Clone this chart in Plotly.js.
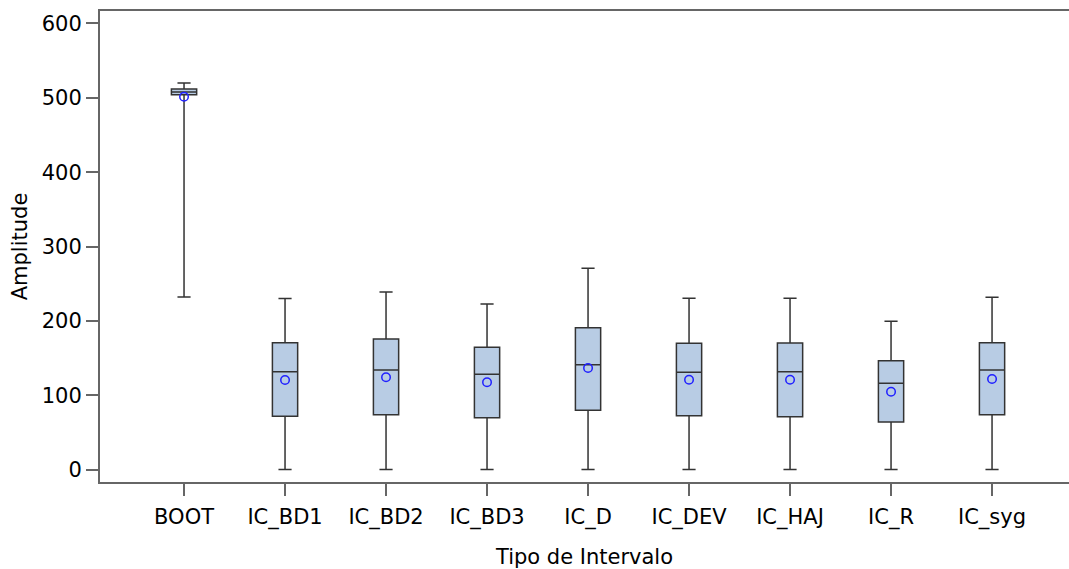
<!DOCTYPE html>
<html>
<head>
<meta charset="utf-8">
<script src="https://cdn.plot.ly/plotly-3.0.1.min.js"></script>
<style>html,body{margin:0;padding:0;background:#fff;}#chart{width:1069px;height:569px;}</style>
</head>
<body>
<div id="chart"></div>
<script>
// Interval types and their amplitude summaries
const categories = ["BOOT", "IC_BD1", "IC_BD2", "IC_BD3", "IC_D", "IC_DEV", "IC_HAJ", "IC_R", "IC_syg"];
const lowerWhisker = [232, 0, 0, 0, 0, 0, 0, 0, 0];
const q1Values     = [504, 71.6, 73.7, 69.7, 79.6, 72.4, 71, 63.9, 73.7];
const medianValues = [508, 131.6, 133.9, 128, 141, 130.8, 131.6, 116, 133.9];
const q3Values     = [512, 170.6, 175.6, 164.4, 190.8, 169.8, 170.2, 146.4, 170.6];
const upperWhisker = [520, 230, 238.8, 222.7, 270.7, 230.3, 230.3, 199.4, 231.7];
const meanValues   = [501.5, 120.4, 124, 117.3, 136.6, 120.8, 120.8, 104.7, 121.8];

const boxTrace = {
  type: "box",
  x: categories,
  q1: q1Values,
  median: medianValues,
  q3: q3Values,
  lowerfence: lowerWhisker,
  upperfence: upperWhisker,
  boxpoints: false,
  width: 0.25,
  whiskerwidth: 0.52,
  fillcolor: "#b8cce4",
  line: { color: "#333333", width: 1.5 },
  hoverinfo: "skip",
  showlegend: false
};

const meanTrace = {
  type: "scatter",
  mode: "markers",
  x: categories,
  y: meanValues,
  marker: { symbol: "circle-open", size: 8.5, color: "#2020ff", line: { width: 1.5, color: "#2020ff" } },
  hoverinfo: "skip",
  showlegend: false
};

const layout = {
  width: 1069,
  height: 569,
  margin: { l: 100, r: 0, t: 11, b: 87 },
  paper_bgcolor: "#ffffff",
  plot_bgcolor: "#ffffff",
  font: { family: "DejaVu Sans, Verdana, sans-serif", color: "#000000", size: 21 },
  xaxis: {
    type: "category",
    range: [-0.832, 8.762],
    showline: true,
    linecolor: "#666666",
    linewidth: 2,
    mirror: true,
    ticks: "outside",
    ticklen: 12,
    tickwidth: 2,
    tickcolor: "#666666",
    ticklabelstandoff: 3,
    showgrid: false,
    zeroline: false,
    tickfont: { size: 21 },
    title: { text: "Tipo de Intervalo", font: { size: 21 }, standoff: 20 }
  },
  yaxis: {
    range: [-16.8, 616.8],
    tickvals: [0, 100, 200, 300, 400, 500, 600],
    showline: true,
    linecolor: "#666666",
    linewidth: 2,
    ticks: "outside",
    ticklen: 12,
    tickwidth: 2,
    tickcolor: "#666666",
    showgrid: false,
    zeroline: false,
    tickfont: { size: 21 },
    title: { text: "Amplitude", font: { size: 21 }, standoff: 8 }
  }
};

Plotly.newPlot("chart", [boxTrace, meanTrace], layout, { displayModeBar: false, staticPlot: true });
</script>
</body>
</html>
